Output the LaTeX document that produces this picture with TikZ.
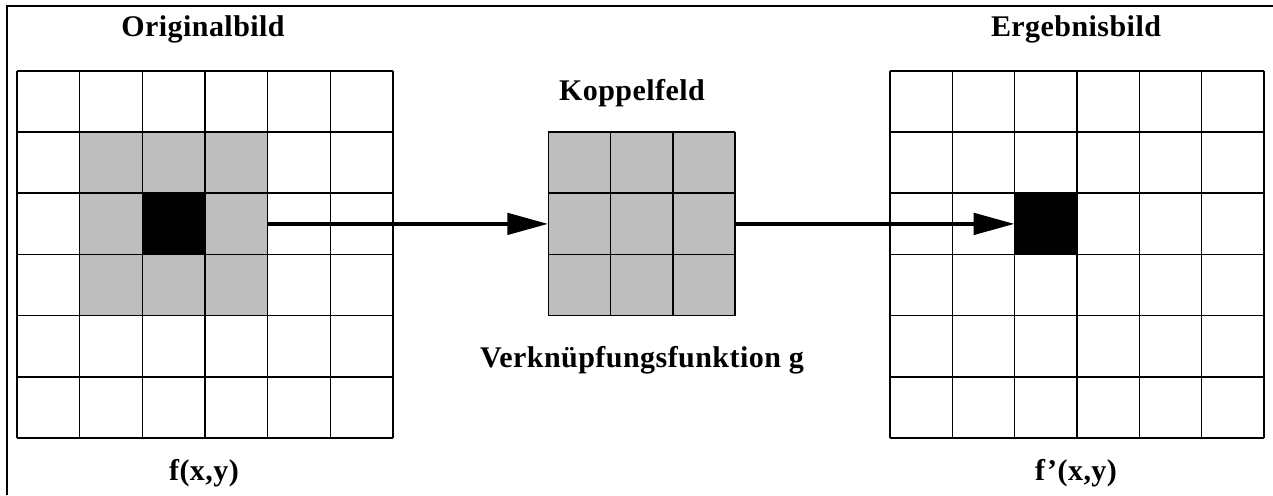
\documentclass[tikz,border=0pt]{standalone}
\usepackage{fontspec}
\setmainfont{Liberation Serif}[LetterSpace=1.5]
\usetikzlibrary{arrows.meta}
\definecolor{cellgray}{RGB}{190,190,190}
\begin{document}
\begin{tikzpicture}[x=1pt,y=-1pt,
  gridline/.style={line width=1.6pt},
  frameline/.style={line width=2pt},
  lbl/.style={font=\bfseries\fontsize{30}{34}\selectfont, anchor=base, inner sep=0pt},
  block/.style={rectangle, inner sep=0pt, draw=none, anchor=north west},
  conn/.style={line width=4.8pt, -{Triangle[length=41pt,width=21pt]}}]
\useasboundingbox (0,0) rectangle (1273,495);
\fill[white] (0,0) rectangle (1273,495);
% frame (top and left only)
\draw[frameline] (6,6.5) -- (1273,6.5);
\draw[frameline] (6.5,6) -- (6.5,495);
% filled regions
\node[block, fill=cellgray, minimum width=188pt, minimum height=183.6pt] (nb) at (79.67,131.9) {};
\node[block, fill=black, minimum width=62.67pt, minimum height=61.2pt] (pc) at (142.33,193.1) {};
\node[block, fill=cellgray, minimum width=186.6pt, minimum height=183.6pt] (kf) at (548.3,131.9) {};
\node[block, fill=black, minimum width=62.33pt, minimum height=61.2pt] (rc) at (1014.67,193.1) {};
% left grid
\foreach \i in {0,...,6} {
  \draw[gridline] ({17+\i*62.67},70.7) -- ({17+\i*62.67},437.9);
  \draw[gridline] (17,{70.7+\i*61.2}) -- (393,{70.7+\i*61.2});
}
% right grid
\foreach \i in {0,...,6} {
  \draw[gridline] ({890+\i*62.33},70.7) -- ({890+\i*62.33},437.9);
  \draw[gridline] (890,{70.7+\i*61.2}) -- (1264,{70.7+\i*61.2});
}
% middle grid
\foreach \i in {0,...,3} {
  \draw[gridline] ({548.3+\i*62.2},131.9) -- ({548.3+\i*62.2},315.5);
  \draw[gridline] (548.3,{131.9+\i*61.2}) -- (734.9,{131.9+\i*61.2});
}
% labels
\node[lbl] (t1) at (203,37) {Originalbild};
\node[lbl] (t2) at (1076,37) {Ergebnisbild};
\node[lbl] (t3) at (632,100.5) {Koppelfeld};
\node[lbl] (t4) at (642,367) {Verknüpfungsfunktion g};
\node[lbl] (t5) at (204,480) {f(x,y)};
\node[lbl] (t6) at (1076,480) {f'(x,y)};
% connectors
\draw[conn] (nb.east) -- (kf.west);
\draw[conn] (kf.east) -- (rc.west);
\end{tikzpicture}
\end{document}
